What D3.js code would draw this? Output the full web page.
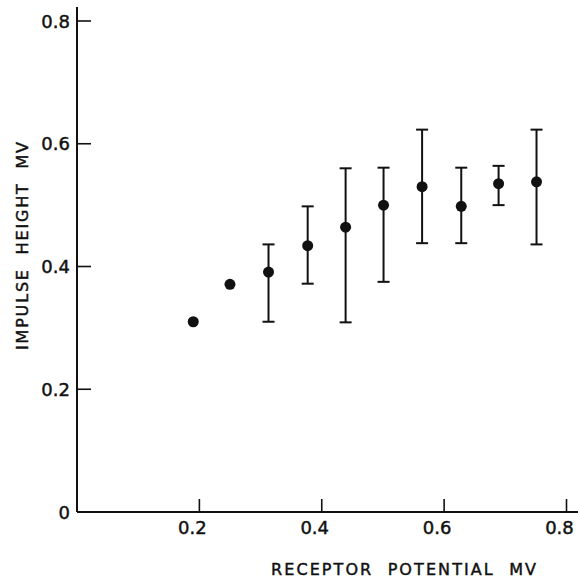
<!DOCTYPE html>
<html>
<head>
<meta charset="utf-8">
<script src="https://cdn.jsdelivr.net/npm/d3@7"></script>
<style>
  body { margin: 0; background: #fff; }
  text { font-family: "DejaVu Sans", "Liberation Sans", sans-serif; fill: #111; stroke: #111; stroke-width: 0.45px; }
</style>
</head>
<body>
<svg id="chart" width="578" height="579"></svg>
<script>
// receptor potential (mV) and impulse height (mV), with error ranges
const receptor = [0.19, 0.25, 0.313, 0.377, 0.439, 0.501, 0.564, 0.628, 0.689, 0.751];
const impulse  = [0.310, 0.371, 0.391, 0.434, 0.464, 0.500, 0.530, 0.498, 0.535, 0.538];
const errLow   = [null, null, 0.310, 0.372, 0.309, 0.375, 0.438, 0.438, 0.500, 0.436];
const errHigh  = [null, null, 0.436, 0.498, 0.560, 0.561, 0.623, 0.561, 0.564, 0.623];
const xTicks = [0.2, 0.4, 0.6, 0.8];
const yTicks = [0, 0.2, 0.4, 0.6, 0.8];

const svg = d3.select("#chart");

const x = d3.scaleLinear().domain([0, 0.8]).range([77, 566.5]);
const y = d3.scaleLinear().domain([0, 0.8]).range([512, 21]);

const ink = "#111";

// axes lines
svg.append("line")
    .attr("x1", x(0)).attr("x2", 578)
    .attr("y1", y(0)).attr("y2", y(0))
    .attr("stroke", ink).attr("stroke-width", 2);
svg.append("line")
    .attr("x1", x(0)).attr("x2", x(0))
    .attr("y1", y(0)).attr("y2", 7)
    .attr("stroke", ink).attr("stroke-width", 2);

// x ticks (pointing up, inside)
svg.selectAll(".xt").data(xTicks).enter().append("line")
    .attr("x1", d => x(d)).attr("x2", d => x(d))
    .attr("y1", y(0)).attr("y2", y(0) - 13)
    .attr("stroke", ink).attr("stroke-width", 1.6);
svg.selectAll(".xl").data(xTicks).enter().append("text")
    .attr("x", d => x(d) - 7).attr("y", 534)
    .attr("text-anchor", "middle")
    .attr("font-size", 18)
    .text(d => d.toFixed(1));

// y ticks (pointing right, inside)
svg.selectAll(".yt").data(yTicks.filter(d => d > 0)).enter().append("line")
    .attr("x1", x(0)).attr("x2", x(0) + 14)
    .attr("y1", d => y(d)).attr("y2", d => y(d))
    .attr("stroke", ink).attr("stroke-width", 1.6);
svg.selectAll(".yl").data(yTicks).enter().append("text")
    .attr("x", 70).attr("y", d => y(d) + 6.5)
    .attr("text-anchor", "end")
    .attr("font-size", 18)
    .text(d => d === 0 ? "0" : d.toFixed(1));

// axis titles
svg.append("text")
    .attr("x", 271).attr("y", 575)
    .attr("font-size", 16)
    .attr("xml:space", "preserve")
    .attr("textLength", 265)
    .attr("lengthAdjust", "spacing")
    .text("RECEPTOR  POTENTIAL  MV");
svg.append("text")
    .attr("transform", "translate(28,350) rotate(-90)")
    .attr("font-size", 16)
    .attr("xml:space", "preserve")
    .attr("textLength", 208)
    .attr("lengthAdjust", "spacing")
    .text("IMPULSE  HEIGHT  MV");

// error bars
const pts = receptor.map((r, i) => ({x: r, y: impulse[i], lo: errLow[i], hi: errHigh[i]}));
const withErr = pts.filter(d => d.lo !== null);

svg.selectAll(".eb").data(withErr).enter().append("line")
    .attr("x1", d => x(d.x)).attr("x2", d => x(d.x))
    .attr("y1", d => y(d.lo)).attr("y2", d => y(d.hi))
    .attr("stroke", ink).attr("stroke-width", 2);
svg.selectAll(".capl").data(withErr).enter().append("line")
    .attr("x1", d => x(d.x) - 6).attr("x2", d => x(d.x) + 6)
    .attr("y1", d => y(d.lo)).attr("y2", d => y(d.lo))
    .attr("stroke", ink).attr("stroke-width", 2);
svg.selectAll(".caph").data(withErr).enter().append("line")
    .attr("x1", d => x(d.x) - 6).attr("x2", d => x(d.x) + 6)
    .attr("y1", d => y(d.hi)).attr("y2", d => y(d.hi))
    .attr("stroke", ink).attr("stroke-width", 2);

// points
svg.selectAll(".pt").data(pts).enter().append("circle")
    .attr("cx", d => x(d.x)).attr("cy", d => y(d.y))
    .attr("r", 5.5)
    .attr("fill", ink);
</script>
</body>
</html>
